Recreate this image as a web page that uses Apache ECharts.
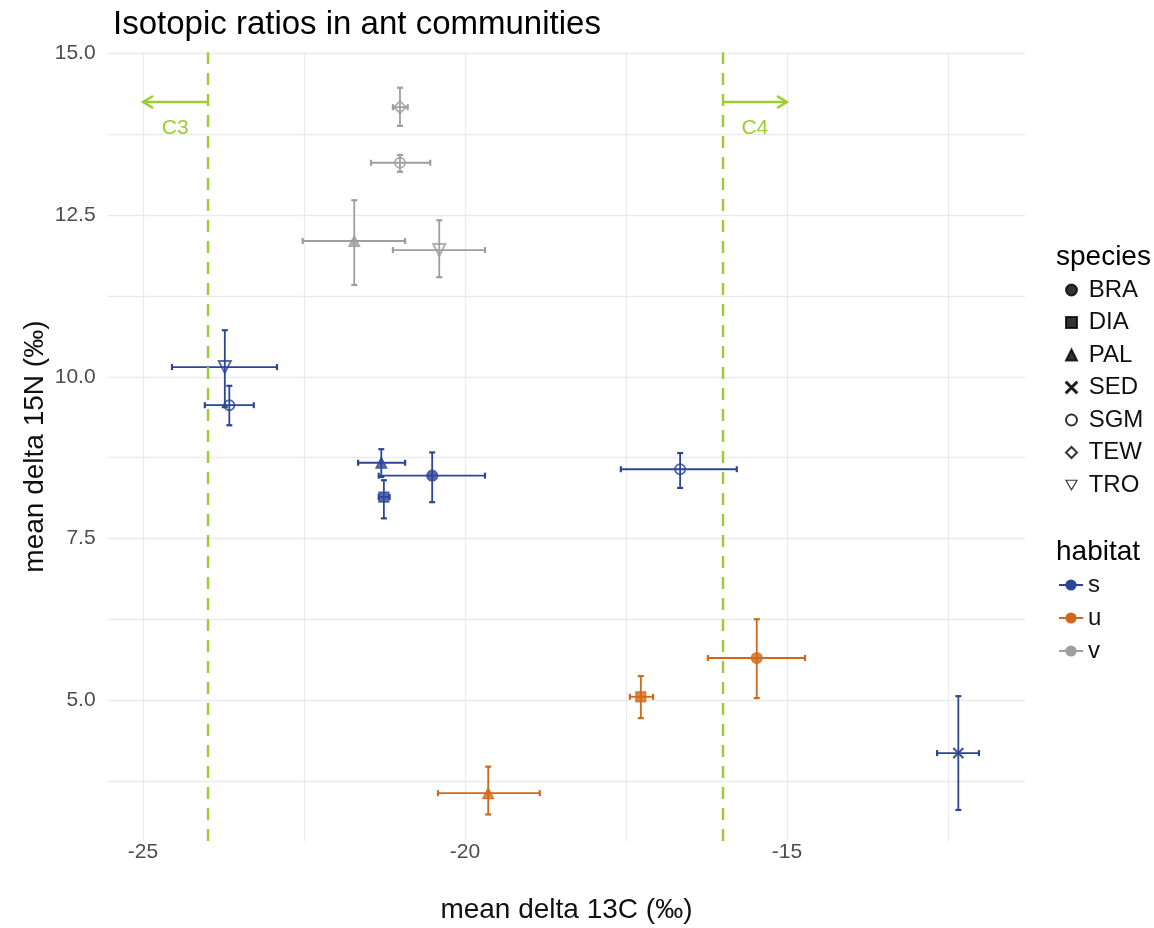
<!DOCTYPE html>
<html>
<head>
<meta charset="utf-8">
<title>Isotopic ratios in ant communities</title>
<script src="https://cdn.jsdelivr.net/npm/echarts@6/dist/echarts.min.js"></script>
<style>
  html, body { margin: 0; padding: 0; background: #fff; }
  #chart { width: 1154px; height: 928px; }
</style>
</head>
<body>
<div id="chart"></div>
<script>
// species / habitat levels
const speciesNames = ['BRA', 'DIA', 'PAL', 'SED', 'SGM', 'TEW', 'TRO']
const habitatNames = ['s', 'u', 'v']
const habitatColors = ['#2D4597', '#D0681A', '#9E9E9E']

// one entry per point (mean ± error)
const pointSpecies = ['TEW', 'SGM', 'PAL', 'TRO', 'TRO', 'SGM', 'PAL', 'DIA', 'BRA', 'SGM', 'BRA', 'DIA', 'PAL', 'SED']
const pointHabitat = ['v', 'v', 'v', 'v', 's', 's', 's', 's', 's', 's', 'u', 'u', 'u', 's']
const meanC = [-21.01, -21.01, -21.72, -20.40, -23.73, -23.66, -21.30, -21.26, -20.51, -16.66, -15.47, -17.27, -19.64, -12.34]
const meanN = [14.17, 13.31, 12.10, 11.96, 10.15, 9.56, 8.67, 8.14, 8.47, 8.57, 5.65, 5.05, 3.56, 4.18]
const lowC = [-21.12, -21.46, -22.52, -21.12, -24.55, -24.04, -21.66, -21.34, -21.34, -17.58, -16.23, -17.44, -20.42, -12.67]
const highC = [-20.89, -20.54, -20.93, -19.69, -22.92, -23.28, -20.93, -21.17, -19.69, -15.78, -14.72, -17.08, -18.84, -12.02]
const lowN = [13.88, 13.17, 11.42, 11.54, 9.53, 9.25, 8.45, 7.81, 8.06, 8.28, 5.03, 4.72, 3.23, 3.30]
const highN = [14.47, 13.43, 12.73, 12.42, 10.72, 9.86, 8.88, 8.40, 8.83, 8.82, 6.25, 5.37, 3.97, 5.06]

// C3 / C4 reference lines and arrows
const cutoffs = [-24, -16]
const arrowFrom = [-24, -16]
const arrowTo = [-25, -15]
const arrowY = 14.25
const arrowLabels = ['C3', 'C4']
const labelX = [-24.5, -15.5]
const labelY = 13.85

// axis ticks
const xLabels = [-25, -20, -15]
const xGrid = [-25, -22.5, -20, -17.5, -15, -12.5]
const yLabels = [5, 7.5, 10, 12.5, 15]
const yGrid = [3.75, 5, 6.25, 7.5, 8.75, 10, 11.25, 12.5, 13.75, 15]

const GREEN = '#9ACD32'
const FONT = '"Liberation Sans", Arial, sans-serif'

const speciesSymbols = {
  BRA: { symbol: 'circle', size: 11 },
  DIA: { symbol: 'rect', size: 10 },
  PAL: { symbol: 'triangle', size: 11 },
  SED: { symbol: 'path://M0,0.7 L0.7,0 L10,9.3 L9.3,10 Z M9.3,0 L10,0.7 L0.7,10 L0,9.3 Z', size: 10 },
  SGM: { symbol: 'emptyCircle', size: 10 },
  TEW: { symbol: 'emptyDiamond', size: 12 },
  TRO: { symbol: 'emptyTriangle', size: 12, rotate: 180 }
}
const downTriangle = 'path://M0,0 L10,0 L5,8.66 Z'

const chart = echarts.init(document.getElementById('chart'))

const scatterSeries = speciesNames.map((sp) => {
  const data = []
  pointSpecies.forEach((s, i) => {
    if (s !== sp) return
    const col = habitatColors[habitatNames.indexOf(pointHabitat[i])]
    data.push({ value: [meanC[i], meanN[i]], itemStyle: { color: col, borderColor: col } })
  })
  const sym = speciesSymbols[sp]
  return {
    name: sp,
    type: 'scatter',
    symbol: sym.symbol,
    symbolSize: sym.size,
    symbolRotate: sym.rotate || 0,
    itemStyle: { color: '#000', borderColor: '#000', borderWidth: 1.2 },
    z: 3,
    data: data
  }
})

const barData = meanC.map((c, i) => [c, meanN[i], lowC[i], highC[i], lowN[i], highN[i], habitatNames.indexOf(pointHabitat[i])])

const errorBars = {
  type: 'custom',
  name: 'errorbars',
  z: 4,
  silent: true,
  data: barData,
  renderItem: function (params, api) {
    const col = habitatColors[api.value(6)]
    const p0 = api.coord([api.value(2), api.value(1)])
    const p1 = api.coord([api.value(3), api.value(1)])
    const q0 = api.coord([api.value(0), api.value(4)])
    const q1 = api.coord([api.value(0), api.value(5)])
    const cap = 3
    const style = { stroke: col, lineWidth: 1.8 }
    const ln = (x1, y1, x2, y2, w) => ({ type: 'line', shape: { x1, y1, x2, y2 }, style: Object.assign({}, style, w ? { lineWidth: w } : {}) })
    return {
      type: 'group',
      children: [
        ln(p0[0], p0[1], p1[0], p1[1]),
        ln(p0[0], p0[1] - cap, p0[0], p0[1] + cap, 2.2),
        ln(p1[0], p1[1] - cap, p1[0], p1[1] + cap, 2.2),
        ln(q0[0], q0[1], q1[0], q1[1]),
        ln(q0[0] - cap, q0[1], q0[0] + cap, q0[1], 2.2),
        ln(q1[0] - cap, q1[1], q1[0] + cap, q1[1], 2.2)
      ]
    }
  }
}

const arrows = {
  type: 'custom',
  name: 'arrows',
  z: 2,
  silent: true,
  data: arrowFrom.map((a, i) => [a, arrowTo[i], arrowY, labelX[i], labelY, i]),
  renderItem: function (params, api) {
    const a = api.coord([api.value(0), api.value(2)])
    const b = api.coord([api.value(1), api.value(2)])
    const t = api.coord([api.value(3), api.value(4)])
    const dir = b[0] > a[0] ? 1 : -1
    const st = { stroke: GREEN, lineWidth: 2.4 }
    return {
      type: 'group',
      children: [
        { type: 'line', shape: { x1: a[0], y1: a[1], x2: b[0], y2: b[1] }, style: st },
        { type: 'polyline', shape: { points: [[b[0] - dir * 10, b[1] - 6], [b[0], b[1]], [b[0] - dir * 10, b[1] + 6]] }, style: Object.assign({ fill: null }, st) },
        { type: 'text', x: t[0], y: t[1], style: { text: arrowLabels[api.value(5)], fill: GREEN, font: '21px ' + FONT, align: 'center', verticalAlign: 'middle' } }
      ]
    }
  }
}

const refLines = {
  type: 'line',
  name: 'cutoffs',
  data: [],
  z: 1,
  silent: true,
  markLine: {
    silent: true,
    symbol: ['none', 'none'],
    label: { show: false },
    lineStyle: { color: GREEN, type: [12, 9], width: 2.4 },
    data: cutoffs.map((c) => ({ xAxis: c }))
  }
}

const habitatSeries = habitatNames.map((h, i) => ({
  name: h,
  type: 'line',
  data: [],
  symbol: 'circle',
  symbolSize: 10,
  itemStyle: { color: habitatColors[i] },
  lineStyle: { color: habitatColors[i], width: 2 }
}))

const speciesLegendData = speciesNames.map((sp) =>
  sp === 'TRO'
    ? { name: sp, icon: downTriangle, itemStyle: { color: '#fff', borderColor: '#000', borderWidth: 1.2 } }
    : { name: sp }
)

const option = {
  backgroundColor: '#fff',
  animation: false,
  textStyle: { fontFamily: FONT },
  title: [
    { text: 'Isotopic ratios in ant communities', left: 108, top: 3, textStyle: { fontSize: 33, fontWeight: 'normal', color: '#000', fontFamily: FONT } },
    { text: 'species', left: 1051, top: 238, textStyle: { fontSize: 28, fontWeight: 'normal', color: '#000', fontFamily: FONT } },
    { text: 'habitat', left: 1051, top: 533, textStyle: { fontSize: 28, fontWeight: 'normal', color: '#000', fontFamily: FONT } }
  ],
  legend: [
    {
      data: speciesLegendData,
      orient: 'vertical',
      left: 1060,
      top: 273,
      itemWidth: 11,
      itemHeight: 11,
      itemGap: 8.5,
      formatter: (name) => ' ' + name,
      textStyle: { fontSize: 24, color: '#111', fontFamily: FONT }
    },
    {
      data: habitatNames,
      orient: 'vertical',
      left: 1053,
      top: 568,
      itemWidth: 24,
      itemHeight: 14,
      itemGap: 9,
      textStyle: { fontSize: 24, color: '#111', fontFamily: FONT }
    }
  ],
  grid: { left: 107.6, right: 128.7, top: 52.2, bottom: 87, containLabel: false, outerBoundsMode: 'none' },
  xAxis: {
    type: 'value',
    min: -25.55,
    max: -11.3,
    name: 'mean delta 13C (‰)',
    nameLocation: 'middle',
    nameGap: 55,
    nameMoveOverlap: false,
    nameTextStyle: { fontSize: 28, color: '#111', fontFamily: FONT },
    axisLine: { show: false },
    axisTick: { show: false, customValues: xGrid },
    axisLabel: { customValues: xLabels, fontSize: 21, color: '#4D4D4D', margin: 1, fontFamily: FONT },
    splitLine: { show: true, lineStyle: { color: '#EBEBEB', width: 1.3 } }
  },
  yAxis: {
    type: 'value',
    min: 2.82,
    max: 15.02,
    name: 'mean delta 15N (‰)',
    nameLocation: 'middle',
    nameGap: 58,
    nameMoveOverlap: false,
    nameTextStyle: { fontSize: 28, color: '#111', fontFamily: FONT },
    axisLine: { show: false },
    axisTick: { show: false, customValues: yGrid },
    axisLabel: { customValues: yLabels, fontSize: 21, color: '#4D4D4D', margin: 12, fontFamily: FONT, formatter: (v) => v.toFixed(1) },
    splitLine: { show: true, lineStyle: { color: '#EBEBEB', width: 1.3 } }
  },
  series: [refLines, arrows].concat(scatterSeries, [errorBars], habitatSeries)
}

chart.setOption(option)
</script>
</body>
</html>
